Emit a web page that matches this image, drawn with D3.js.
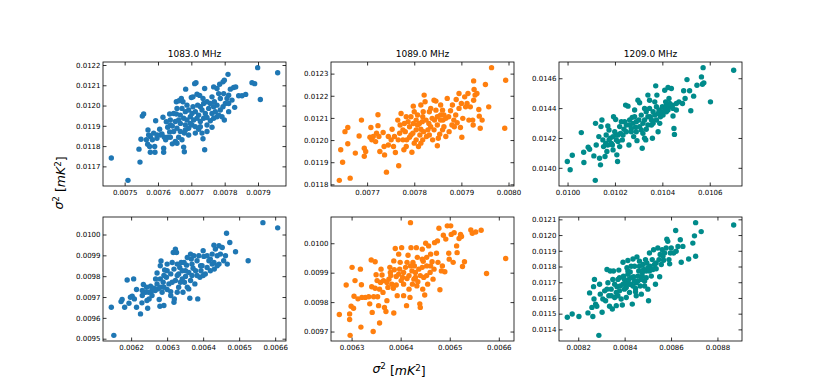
<!DOCTYPE html>
<html><head><meta charset="utf-8">
<script src="https://cdn.jsdelivr.net/npm/d3@7"></script>
<style>body{margin:0;background:#fff} svg{display:block} text{font-family:"DejaVu Sans",sans-serif}</style>
</head><body><svg id="c" width="825" height="385"></svg>
<script>
const titles = ["1083.0 MHz","1089.0 MHz","1209.0 MHz"];
const colors = ["#1f77b4","#ff7f0e","#008b8b"];
const axisLabel = "σ² [mK²]";

const p1 = [[0.007460,0.011741],[0.007510,0.011631],[0.007546,0.011721],[0.007543,0.011785],[0.007549,0.011834],[0.007553,0.011948],[0.007557,0.011958],[0.007570,0.011880],[0.007565,0.011831],[0.007569,0.011809],[0.007577,0.011847],[0.007583,0.011831],[0.007575,0.011798],[0.007590,0.011798],[0.007577,0.011770],[0.007591,0.011770],[0.007597,0.011839],[0.007593,0.011925],[0.007605,0.011883],[0.007612,0.011860],[0.007619,0.011844],[0.007615,0.011942],[0.007617,0.011790],[0.007617,0.011770],[0.007629,0.011893],[0.007637,0.011904],[0.007643,0.011899],[0.007635,0.011870],[0.007629,0.011844],[0.007623,0.011831],[0.007635,0.011958],[0.007647,0.011961],[0.007655,0.011958],[0.007652,0.011823],[0.007643,0.011811],[0.007657,0.011814],[0.007655,0.012019],[0.007663,0.012024],[0.007670,0.012035],[0.007675,0.012019],[0.007683,0.012081],[0.007677,0.011795],[0.007679,0.011772],[0.007700,0.012040],[0.007705,0.012043],[0.007710,0.012108],[0.007714,0.012113],[0.007717,0.012056],[0.007725,0.012050],[0.007735,0.012035],[0.007740,0.012084],[0.007735,0.011836],[0.007740,0.011782],[0.007747,0.011904],[0.007762,0.011893],[0.007757,0.011925],[0.007767,0.012092],[0.007777,0.012084],[0.007785,0.012105],[0.007795,0.012117],[0.007799,0.012125],[0.007810,0.012154],[0.007769,0.012019],[0.007777,0.012002],[0.007787,0.011978],[0.007795,0.011994],[0.007802,0.012010],[0.007812,0.012051],[0.007817,0.012081],[0.007827,0.012089],[0.007833,0.012092],[0.007842,0.012048],[0.007852,0.012048],[0.007863,0.012055],[0.007830,0.011991],[0.007882,0.012113],[0.007890,0.012108],[0.007899,0.012187],[0.007907,0.012030],[0.007959,0.012162],[0.007799,0.011929],[0.007792,0.011945],[0.007777,0.011945],[0.007767,0.011937],[0.007812,0.011970],[0.007822,0.012027],[0.007807,0.012035],[0.007787,0.012035],[0.007767,0.011994],
[0.007672,0.011986],[0.007682,0.011970],[0.007692,0.011978],[0.007702,0.011961],[0.007712,0.011970],[0.007722,0.011953],[0.007732,0.011978],[0.007742,0.011961],[0.007677,0.011937],[0.007687,0.011929],[0.007697,0.011945],[0.007707,0.011929],[0.007717,0.011937],[0.007727,0.011921],[0.007737,0.011937],[0.007667,0.011912],[0.007682,0.011904],[0.007692,0.011888],[0.007702,0.011904],[0.007712,0.011896],[0.007722,0.011883],[0.007657,0.011888],[0.007667,0.011872],[0.007652,0.011921],[0.007662,0.011929],[0.007705,0.011994],[0.007687,0.012002],[0.007727,0.011994],[0.007752,0.011986],[0.007757,0.012010],[0.007747,0.012019],[0.007737,0.012010],[0.007679,0.011864],[0.007692,0.011855],[0.007747,0.011872],[0.007732,0.011864],[0.007762,0.011961],[0.007772,0.011970],[0.007782,0.011953],[0.007647,0.011872],[0.007637,0.011929],[0.007625,0.011920],[0.007607,0.011855],[0.007597,0.011855],[0.007637,0.011844],[0.007662,0.011844],[0.007672,0.011831],[0.007719,0.012002],[0.007697,0.011912],[0.007667,0.011953],[0.007747,0.011941],[0.007812,0.012010],[0.007797,0.012059],[0.007782,0.012059],[0.007762,0.012043],[0.007657,0.011986],[0.007682,0.011880],[0.007712,0.011864],[0.007727,0.011896],[0.007587,0.011864],[0.007572,0.011855]];

const p2 = [[0.007641,0.011818],[0.007644,0.011956],[0.007648,0.011900],[0.007653,0.012038],[0.007659,0.012057],[0.007659,0.011983],[0.007664,0.011828],[0.007675,0.011941],[0.007683,0.012018],[0.007688,0.012090],[0.007694,0.011963],[0.007694,0.011927],[0.007697,0.011948],[0.007708,0.012057],[0.007706,0.012013],[0.007710,0.012001],[0.007718,0.011993],[0.007723,0.012065],[0.007723,0.012114],[0.007725,0.012016],[0.007727,0.011948],[0.007734,0.012034],[0.007736,0.011971],[0.007737,0.011933],[0.007741,0.011855],[0.007745,0.011978],[0.007751,0.012001],[0.007753,0.012049],[0.007756,0.011971],[0.007760,0.011944],[0.007765,0.012090],[0.007766,0.012001],[0.007767,0.011884],[0.007772,0.012120],[0.007770,0.012068],[0.007776,0.012001],[0.007778,0.011956],[0.007783,0.012105],[0.007781,0.012038],[0.007784,0.012001],[0.007790,0.012060],[0.007793,0.012023],[0.007795,0.011945],[0.007798,0.012153],[0.007800,0.012128],[0.007804,0.012090],[0.007807,0.012068],[0.007809,0.011971],[0.007800,0.011986],[0.007814,0.012158],[0.007821,0.012203],[0.007823,0.012173],[0.007818,0.012105],[0.007820,0.012038],[0.007826,0.012016],[0.007814,0.012049],[0.007832,0.012128],[0.007835,0.012060],[0.007839,0.012001],[0.007842,0.012180],[0.007846,0.012176],[0.007843,0.012090],[0.007849,0.011974],[0.007851,0.012008],[0.007854,0.012026],[0.007856,0.012158],[0.007860,0.012135],[0.007861,0.012090],[0.007863,0.012060],[0.007867,0.012098],[0.007870,0.012188],[0.007874,0.012038],[0.007877,0.012132],[0.007881,0.012158],[0.007884,0.012090],[0.007885,0.012060],[0.007889,0.012183],[0.007895,0.012210],[0.007898,0.012057],[0.007900,0.012165],[0.007901,0.012013],[0.007903,0.012098],[0.007907,0.012195],[0.007912,0.012165],[0.007914,0.012210],[0.007916,0.012090],[0.007919,0.012150],[0.007924,0.012090],[0.007925,0.012068],[0.007926,0.012267],[0.007927,0.012228],[0.007929,0.012203],[0.007933,0.012210],[0.007937,0.012138],[0.007938,0.012108],[0.007940,0.012053],[0.007944,0.012090],[0.007951,0.012251],[0.007958,0.012150],[0.007964,0.012327],[0.007994,0.012270],[0.007992,0.012053],[0.007926,0.012180],[0.007909,0.012150],
[0.007787,0.012083],[0.007793,0.012105],[0.007798,0.012075],[0.007804,0.012046],[0.007811,0.012075],[0.007817,0.012083],[0.007825,0.012090],[0.007831,0.012075],[0.007838,0.012098],[0.007829,0.012046],[0.007832,0.012023],[0.007812,0.012023],[0.007797,0.012031],[0.007790,0.012013],[0.007776,0.012046],[0.007769,0.012031],[0.007779,0.012075],[0.007842,0.012046],[0.007849,0.012068],[0.007856,0.012090],[0.007860,0.012046],[0.007867,0.012016],[0.007849,0.012105],[0.007856,0.012113],[0.007819,0.012128],[0.007807,0.012113],[0.007835,0.012143],[0.007846,0.012135],[0.007873,0.012105],[0.007880,0.012068],[0.007888,0.012113],[0.007891,0.012078],[0.007804,0.012001],[0.007818,0.012001],[0.007758,0.012016],[0.007745,0.012016],[0.007720,0.012031],[0.007713,0.012016],[0.007783,0.011971],[0.007814,0.011986],[0.007863,0.012113],[0.007895,0.012143]];

const p3 = [[0.009999,0.014042],[0.010011,0.013987],[0.010020,0.014084],[0.010058,0.014236],[0.010068,0.014104],[0.010069,0.014036],[0.010087,0.014138],[0.010093,0.014124],[0.010111,0.014080],[0.010117,0.013916],[0.010118,0.014298],[0.010121,0.014153],[0.010132,0.014209],[0.010135,0.014064],[0.010139,0.014020],[0.010141,0.014276],[0.010145,0.014320],[0.010149,0.014187],[0.010152,0.014142],[0.010158,0.014076],[0.010163,0.014220],[0.010166,0.014109],[0.010170,0.014280],[0.010175,0.014253],[0.010180,0.014198],[0.010185,0.014164],[0.010192,0.014120],[0.010194,0.014342],[0.010203,0.014324],[0.010206,0.014220],[0.010208,0.014087],[0.010211,0.014042],[0.010213,0.014176],[0.010220,0.014276],[0.010223,0.014231],[0.010231,0.014187],[0.010238,0.014258],[0.010241,0.014309],[0.010245,0.014420],[0.010255,0.014413],[0.010259,0.014153],[0.010262,0.014287],[0.010269,0.014242],[0.010273,0.014338],[0.010279,0.014209],[0.010283,0.014387],[0.010287,0.014271],[0.010293,0.014182],[0.010297,0.014453],[0.010301,0.014320],[0.010304,0.014436],[0.010311,0.014253],[0.010315,0.014131],[0.010318,0.014298],[0.010325,0.014398],[0.010330,0.014187],[0.010332,0.014258],[0.010339,0.014487],[0.010346,0.014453],[0.010349,0.014342],[0.010354,0.014287],[0.010358,0.014198],[0.010361,0.014376],[0.010368,0.014442],[0.010372,0.014549],[0.010375,0.014320],[0.010377,0.014487],[0.010382,0.014242],[0.010386,0.014387],[0.010392,0.014342],[0.010400,0.014409],[0.010410,0.014520],[0.010414,0.014442],[0.010417,0.014376],[0.010424,0.014538],[0.010428,0.014464],[0.010431,0.014409],[0.010438,0.014531],[0.010442,0.014420],[0.010445,0.014347],[0.010449,0.014264],[0.010451,0.014224],[0.010459,0.014431],[0.010470,0.014442],[0.010485,0.014431],[0.010490,0.014516],[0.010496,0.014464],[0.010504,0.014591],[0.010515,0.014516],[0.010520,0.014382],[0.010532,0.014480],[0.010546,0.014553],[0.010565,0.014609],[0.010569,0.014560],[0.010572,0.014671],[0.010575,0.014569],[0.010603,0.014442],[0.010701,0.014653],
[0.010227,0.014309],[0.010248,0.014287],[0.010262,0.014320],[0.010276,0.014298],[0.010290,0.014242],[0.010304,0.014276],[0.010325,0.014320],[0.010339,0.014342],[0.010354,0.014320],[0.010368,0.014353],[0.010382,0.014364],[0.010396,0.014376],[0.010410,0.014398],[0.010424,0.014387],[0.010431,0.014431],[0.010403,0.014353],[0.010361,0.014298],[0.010339,0.014287],[0.010318,0.014231],[0.010290,0.014309],[0.010269,0.014264],[0.010248,0.014242],[0.010234,0.014220],[0.010213,0.014220],[0.010199,0.014242],[0.010192,0.014209],[0.010175,0.014187],[0.010161,0.014164],[0.010170,0.014153],[0.010189,0.014153],[0.010220,0.014142],[0.010346,0.014398],[0.010375,0.014409],[0.010332,0.014376],[0.010311,0.014353],[0.010283,0.014342],[0.010389,0.014298],[0.010417,0.014420],[0.010445,0.014398],[0.010459,0.014387],[0.010325,0.014198],[0.010206,0.014187]];

const p4 = [[0.006145,0.009651],[0.006152,0.009516],[0.006172,0.009678],[0.006175,0.009688],[0.006182,0.009651],[0.006189,0.009782],[0.006194,0.009670],[0.006198,0.009699],[0.006203,0.009704],[0.006207,0.009787],[0.006209,0.009691],[0.006215,0.009651],[0.006215,0.009736],[0.006226,0.009619],[0.006230,0.009672],[0.006231,0.009707],[0.006234,0.009760],[0.006240,0.009723],[0.006243,0.009747],[0.006246,0.009646],[0.006250,0.009691],[0.006254,0.009752],[0.006258,0.009707],[0.006263,0.009742],[0.006268,0.009787],[0.006272,0.009815],[0.006274,0.009739],[0.006278,0.009688],[0.006280,0.009656],[0.006281,0.009850],[0.006283,0.009873],[0.006286,0.009723],[0.006289,0.009771],[0.006291,0.009659],[0.006293,0.009830],[0.006298,0.009795],[0.006300,0.009736],[0.006305,0.009763],[0.006310,0.009726],[0.006314,0.009866],[0.006317,0.009914],[0.006319,0.009675],[0.006320,0.009691],[0.006323,0.009930],[0.006326,0.009914],[0.006328,0.009803],[0.006332,0.009747],[0.006335,0.009842],[0.006339,0.009866],[0.006342,0.009787],[0.006344,0.009723],[0.006348,0.009771],[0.006351,0.009826],[0.006354,0.009853],[0.006360,0.009739],[0.006363,0.009694],[0.006365,0.009906],[0.006367,0.009882],[0.006369,0.009803],[0.006372,0.009838],[0.006377,0.009763],[0.006383,0.009874],[0.006385,0.009691],[0.006391,0.009795],[0.006394,0.009826],[0.006397,0.009850],[0.006400,0.009922],[0.006402,0.009895],[0.006406,0.009811],[0.006411,0.009842],[0.006416,0.009874],[0.006420,0.009882],[0.006425,0.009858],[0.006430,0.009949],[0.006431,0.009834],[0.006434,0.009930],[0.006439,0.009898],[0.006444,0.009858],[0.006448,0.009906],[0.006453,0.009938],[0.006457,0.009874],[0.006462,0.009898],[0.006465,0.010006],[0.006467,0.009858],[0.006474,0.009962],[0.006490,0.009917],[0.006525,0.009874],[0.006566,0.010057],[0.006607,0.010032],
[0.006281,0.009787],[0.006291,0.009803],[0.006300,0.009826],[0.006310,0.009811],[0.006319,0.009834],[0.006323,0.009779],[0.006332,0.009811],[0.006342,0.009826],[0.006351,0.009799],[0.006360,0.009818],[0.006369,0.009858],[0.006379,0.009826],[0.006383,0.009803],[0.006393,0.009850],[0.006400,0.009803],[0.006420,0.009826],[0.006430,0.009866],[0.006439,0.009850],[0.006411,0.009898],[0.006281,0.009747],[0.006267,0.009731],[0.006258,0.009731],[0.006249,0.009723],[0.006291,0.009747],[0.006314,0.009771],[0.006337,0.009771],[0.006365,0.009779],[0.006374,0.009898],[0.006356,0.009890],[0.006347,0.009866],[0.006328,0.009858],[0.006300,0.009858],[0.006388,0.009898],[0.006425,0.009906],[0.006444,0.009946],[0.006272,0.009763],[0.006310,0.009707],[0.006328,0.009723],[0.006356,0.009747],[0.006244,0.009683],[0.006231,0.009731]];

const p5 = [[0.006275,0.009758],[0.006289,0.009858],[0.006296,0.009760],[0.006296,0.009741],[0.006297,0.009687],[0.006299,0.009786],[0.006301,0.009918],[0.006304,0.009779],[0.006305,0.009820],[0.006307,0.009873],[0.006313,0.009811],[0.006318,0.009912],[0.006319,0.009715],[0.006320,0.009859],[0.006321,0.009816],[0.006328,0.009816],[0.006335,0.009818],[0.006337,0.009794],[0.006340,0.009943],[0.006341,0.009852],[0.006342,0.009765],[0.006344,0.009700],[0.006345,0.009818],[0.006348,0.009937],[0.006350,0.009893],[0.006352,0.009873],[0.006353,0.009818],[0.006355,0.009788],[0.006357,0.009729],[0.006359,0.009867],[0.006360,0.009912],[0.006362,0.009892],[0.006364,0.009833],[0.006367,0.009782],[0.006370,0.009768],[0.006372,0.009805],[0.006374,0.009850],[0.006376,0.009878],[0.006378,0.009918],[0.006380,0.009890],[0.006382,0.009861],[0.006385,0.009847],[0.006386,0.009763],[0.006389,0.009982],[0.006391,0.009887],[0.006393,0.009822],[0.006396,0.009963],[0.006398,0.009912],[0.006401,0.009873],[0.006402,0.009985],[0.006404,0.009884],[0.006406,0.009822],[0.006410,0.009918],[0.006412,0.009788],[0.006413,0.009880],[0.006415,0.009959],[0.006417,0.009844],[0.006419,0.009816],[0.006420,0.010070],[0.006421,0.009985],[0.006423,0.009906],[0.006425,0.009935],[0.006427,0.009878],[0.006428,0.009923],[0.006430,0.009901],[0.006432,0.009985],[0.006434,0.009952],[0.006435,0.009869],[0.006437,0.009912],[0.006439,0.009794],[0.006440,0.009782],[0.006444,0.009980],[0.006445,0.009844],[0.006446,0.009939],[0.006447,0.009884],[0.006449,0.009824],[0.006451,0.010000],[0.006453,0.009923],[0.006455,0.009861],[0.006457,0.009991],[0.006460,0.009901],[0.006461,0.009963],[0.006464,0.009937],[0.006466,0.009878],[0.006469,0.010002],[0.006473,0.009966],[0.006475,0.010008],[0.006478,0.010051],[0.006480,0.009842],[0.006483,0.009906],[0.006485,0.009923],[0.006487,0.010027],[0.006490,0.009903],[0.006492,0.010014],[0.006495,0.010059],[0.006498,0.009966],[0.006499,0.009946],[0.006502,0.010059],[0.006503,0.010030],[0.006507,0.009935],[0.006509,0.010036],[0.006514,0.009991],[0.006515,0.009968],[0.006519,0.010016],[0.006522,0.010030],[0.006524,0.010023],[0.006526,0.009921],[0.006530,0.009937],[0.006543,0.010045],[0.006546,0.010034],[0.006553,0.010038],[0.006564,0.010044],[0.006575,0.009897],[0.006614,0.009948],
[0.006365,0.009873],[0.006379,0.009901],[0.006387,0.009910],[0.006396,0.009895],[0.006406,0.009901],[0.006417,0.009890],[0.006420,0.009923],[0.006430,0.009884],[0.006440,0.009890],[0.006444,0.009918],[0.006453,0.009890],[0.006461,0.009923],[0.006468,0.009912],[0.006413,0.009935],[0.006399,0.009935],[0.006386,0.009940],[0.006444,0.009946],[0.006453,0.009952],[0.006424,0.009861],[0.006406,0.009861],[0.006391,0.009858],[0.006372,0.009867],[0.006476,0.009935],[0.006433,0.009855],[0.006357,0.009844],[0.006348,0.009847]];

const p6 = [[0.008153,0.011477],[0.008174,0.011498],[0.008203,0.011482],[0.008242,0.011505],[0.008249,0.011632],[0.008259,0.011540],[0.008263,0.011482],[0.008266,0.011672],[0.008268,0.011593],[0.008270,0.011718],[0.008275,0.011561],[0.008280,0.011547],[0.008289,0.011362],[0.008292,0.011687],[0.008295,0.011624],[0.008303,0.011509],[0.008306,0.011593],[0.008314,0.011645],[0.008318,0.011582],[0.008324,0.011781],[0.008328,0.011697],[0.008332,0.011614],[0.008335,0.011547],[0.008338,0.011771],[0.008342,0.011656],[0.008347,0.011530],[0.008349,0.011718],[0.008352,0.011771],[0.008357,0.011603],[0.008364,0.011551],[0.008367,0.011672],[0.008371,0.011614],[0.008375,0.011777],[0.008378,0.011729],[0.008381,0.011676],[0.008385,0.011593],[0.008390,0.011555],[0.008393,0.011827],[0.008395,0.011739],[0.008399,0.011656],[0.008404,0.011697],[0.008407,0.011603],[0.008410,0.011792],[0.008414,0.011838],[0.008418,0.011718],[0.008421,0.011635],[0.008424,0.011765],[0.008428,0.011687],[0.008433,0.011561],[0.008436,0.011848],[0.008439,0.011735],[0.008443,0.011802],[0.008447,0.011660],[0.008450,0.011614],[0.008453,0.011861],[0.008457,0.011708],[0.008461,0.011771],[0.008464,0.011802],[0.008467,0.011676],[0.008472,0.011624],[0.008476,0.011739],[0.008479,0.011813],[0.008482,0.011781],[0.008486,0.011708],[0.008490,0.011844],[0.008493,0.011771],[0.008496,0.011823],[0.008500,0.011656],[0.008503,0.011582],[0.008507,0.011886],[0.008510,0.011802],[0.008515,0.011739],[0.008519,0.011844],[0.008525,0.011907],[0.008529,0.011813],[0.008533,0.011687],[0.008536,0.011786],[0.008543,0.011918],[0.008548,0.011844],[0.008551,0.011735],[0.008553,0.011876],[0.008558,0.011813],[0.008562,0.011907],[0.008568,0.011840],[0.008572,0.011886],[0.008579,0.011918],[0.008582,0.011974],[0.008586,0.011960],[0.008591,0.011844],[0.008594,0.011817],[0.008597,0.011886],[0.008601,0.011918],[0.008611,0.011886],[0.008620,0.012029],[0.008622,0.011897],[0.008630,0.011928],[0.008640,0.011970],[0.008644,0.011827],[0.008651,0.011928],[0.008676,0.011848],[0.008694,0.011949],[0.008701,0.011995],[0.008706,0.011865],[0.008706,0.012079],[0.008730,0.012022],[0.008870,0.012064],
[0.008399,0.011718],[0.008414,0.011750],[0.008428,0.011729],[0.008443,0.011708],[0.008457,0.011739],[0.008472,0.011718],[0.008421,0.011687],[0.008436,0.011676],[0.008450,0.011697],[0.008407,0.011666],[0.008393,0.011687],[0.008378,0.011645],[0.008364,0.011635],[0.008476,0.011760],[0.008493,0.011729],[0.008507,0.011771],[0.008522,0.011781],[0.008500,0.011792],[0.008464,0.011834],[0.008428,0.011802],[0.008414,0.011771],[0.008371,0.011718],[0.008357,0.011687],[0.008342,0.011614],[0.008324,0.011656],[0.008447,0.011639],[0.008486,0.011676],[0.008536,0.011823],[0.008565,0.011865]];

const xTicks = [
  [0.0075,0.0076,0.0077,0.0078,0.0079],
  [0.0077,0.0078,0.0079,0.0080],
  [0.0100,0.0102,0.0104,0.0106],
  [0.0062,0.0063,0.0064,0.0065,0.0066],
  [0.0063,0.0064,0.0065,0.0066],
  [0.0082,0.0084,0.0086,0.0088]
];
const yTicks = [
  [0.0117,0.0118,0.0119,0.0120,0.0121,0.0122],
  [0.0118,0.0119,0.0120,0.0121,0.0122,0.0123],
  [0.0140,0.0142,0.0144,0.0146],
  [0.0095,0.0096,0.0097,0.0098,0.0099,0.0100],
  [0.0097,0.0098,0.0099,0.0100],
  [0.0114,0.0115,0.0116,0.0117,0.0118,0.0119,0.0120,0.0121]
];
const panels = [p1,p2,p3,p4,p5,p6];

const svg = d3.select("#c");
const colX = [103, 331, 559], W = 183;
const rowY = [62, 217], H = 124;
const fmt = d3.format(".4f");
const TICK = 3.5, TFS = 7;

function pad(ext){ const r = ext[1]-ext[0]; return [ext[0]-0.05*r, ext[1]+0.05*r]; }

panels.forEach((data, i) => {
  const c = i % 3, r = Math.floor(i/3);
  const x0 = colX[c], y0 = rowY[r];
  const x = d3.scaleLinear().domain(pad(d3.extent(data, d=>d[0]))).range([x0, x0+W]);
  const y = d3.scaleLinear().domain(pad(d3.extent(data, d=>d[1]))).range([y0+H, y0]);
  const g = svg.append("g");
  const cid = "clip"+i;
  g.append("clipPath").attr("id", cid).append("rect").attr("x",x0).attr("y",y0).attr("width",W).attr("height",H);
  g.append("g").attr("clip-path", `url(#${cid})`).selectAll("circle").data(data).join("circle")
    .attr("cx", d=>x(d[0])).attr("cy", d=>y(d[1])).attr("r", 2.7).attr("fill", colors[c]);

  const styleAxis = sel => {
    sel.select(".domain").remove();
    sel.selectAll(".tick line").attr("stroke","#000").attr("stroke-width",0.8);
    sel.selectAll(".tick text").attr("fill","#000").style("font-family","DejaVu Sans").style("font-size",TFS+"px");
  };
  g.append("g").attr("transform",`translate(0,${y0+H})`)
    .call(d3.axisBottom(x).tickValues(xTicks[i]).tickFormat(fmt).tickSizeInner(-TICK).tickSizeOuter(0).tickPadding(4.5))
    .call(styleAxis);
  g.append("g").attr("transform",`translate(0,${y0})`)
    .call(d3.axisTop(x).tickValues(xTicks[i]).tickFormat("").tickSizeInner(-TICK).tickSizeOuter(0))
    .call(styleAxis);
  g.append("g").attr("transform",`translate(${x0},0)`)
    .call(d3.axisLeft(y).tickValues(yTicks[i]).tickFormat(fmt).tickSizeInner(-TICK).tickSizeOuter(0).tickPadding(2.5))
    .call(styleAxis);
  g.append("g").attr("transform",`translate(${x0+W},0)`)
    .call(d3.axisRight(y).tickValues(yTicks[i]).tickFormat("").tickSizeInner(-TICK).tickSizeOuter(0))
    .call(styleAxis);
  g.append("rect").attr("x",x0).attr("y",y0).attr("width",W).attr("height",H)
    .attr("fill","none").attr("stroke","#000").attr("stroke-width",0.8);
  if (r === 0) {
    g.append("text").attr("x", x0+W/2).attr("y", y0-5).attr("text-anchor","middle")
      .style("font-size","9px").attr("fill","#000").text(titles[c]);
  }
});

function mathLabel(sel){
  // σ² [mK²] in mathtext style
  sel.append("tspan").attr("font-style","italic").text("σ");
  sel.append("tspan").attr("dy","-0.45em").style("font-size","0.7em").text("2");
  sel.append("tspan").attr("dy","0.45em").text("\u00a0[");
  sel.append("tspan").attr("font-style","italic").text("mK");
  sel.append("tspan").attr("dy","-0.45em").style("font-size","0.7em").text("2");
  sel.append("tspan").attr("dy","0.45em").text("]");
}
svg.append("text").attr("x", 399).attr("y", 373).attr("text-anchor","middle")
  .style("font-size","12.5px").attr("fill","#000").call(mathLabel).attr("aria-label", axisLabel);
svg.append("text").attr("transform","translate(63,183) rotate(-90)").attr("text-anchor","middle")
  .style("font-size","12.5px").attr("fill","#000").call(mathLabel).attr("aria-label", axisLabel);
</script></body></html>
